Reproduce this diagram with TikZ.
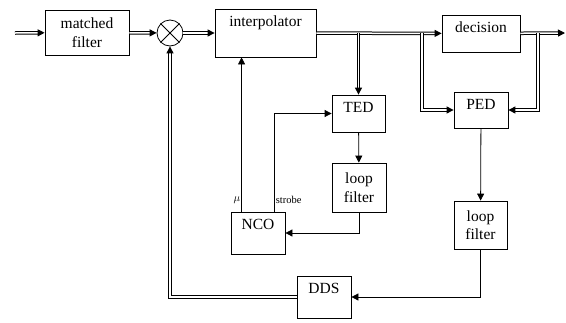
\documentclass[tikz,border=0pt]{standalone}
\usepackage{fontspec}
\setmainfont{Liberation Serif}
\usetikzlibrary{arrows.meta,positioning,calc}

\begin{document}
\begin{tikzpicture}[x=1pt,y=-1pt,line width=0.8pt,>={Triangle[length=7pt,width=7pt]},
  font=\fontsize{15.5}{18.5}\selectfont,
  blk/.style={draw,inner sep=6pt,text height=11pt,text depth=#1},
  blk2/.style={draw,align=center,inner sep=1pt},
  dbl/.style={line width=1pt,double,double distance=1.5pt},
  tag/.style={font=\fontsize{10.5}{12}\selectfont,inner sep=1pt}]
  \useasboundingbox (0,0) rectangle (566,322);
  % forward path
  \node[blk2,minimum width=84pt,minimum height=45pt] (mf) at (87,32.5) {matched\\filter};
  \node[draw,circle,minimum size=26pt] (mix) at (170,33) {};
  \draw (mix.north east)--(mix.south west) (mix.north west)--(mix.south east);
  \node[blk=25pt,minimum width=101pt] (interp) at (265.5,33) {interpolator};
  \node[blk=14pt,minimum width=78pt] (dec) at (481,33.5) {decision};
  % timing loop
  \node[blk=14pt,minimum width=53pt] (ted) at (358.5,113.5) {TED};
  \node[blk2,minimum width=54pt,minimum height=49pt] (lf1) at (359,187.5) {loop\\filter};
  \node[blk=19pt,minimum width=54pt] (nco) at (258,233) {NCO};
  % carrier loop
  \node[blk=13pt,minimum width=54pt] (ped) at (481,110) {PED};
  \node[blk2,minimum width=53pt,minimum height=48pt] (lf2) at (480.5,225) {loop\\filter};
  \node[blk=19pt,minimum width=54pt] (dds) at (324,297) {DDS};
  \coordinate (in) at (15,33);
  \coordinate (out) at (565,33);
  \coordinate (pl) at (422,33);
  \coordinate (pr) at (538,33);
  \coordinate (nmu) at ($(nco.north west)!0.2!(nco.north east)$);
  \coordinate (nst) at ($(nco.north west)!0.8!(nco.north east)$);
  \draw[dbl,->] (in)--(mf);
  \draw[dbl,->] (mf)--(mix);
  \draw[dbl,->] (mix)--(interp);
  \draw[dbl,->] (interp)--(dec);
  \draw[dbl,->] (dec)--(out);
  \draw[dbl,->] (ted.north |- interp.east)--(ted);
  \draw[dbl,->] (pl) |- (ped);
  \draw[dbl,->] (pr) |- (ped);
  \draw[->] (ted)--(lf1);
  \draw[->] (lf1) |- (nco);
  \draw[->] (nmu)--(nmu |- interp.south);
  \draw[->] (nst) |- (ted);
  \node[tag,left] (mu) at (nmu |- 0,200) {$\mu$};
  \node[tag,right] (strobe) at (nst |- 0,200) {strobe};
  \draw[->] (ped)--(lf2);
  \draw[->] (lf2) |- (dds);
  \draw[dbl,->] (dds) -| (mix);
\end{tikzpicture}
\end{document}
